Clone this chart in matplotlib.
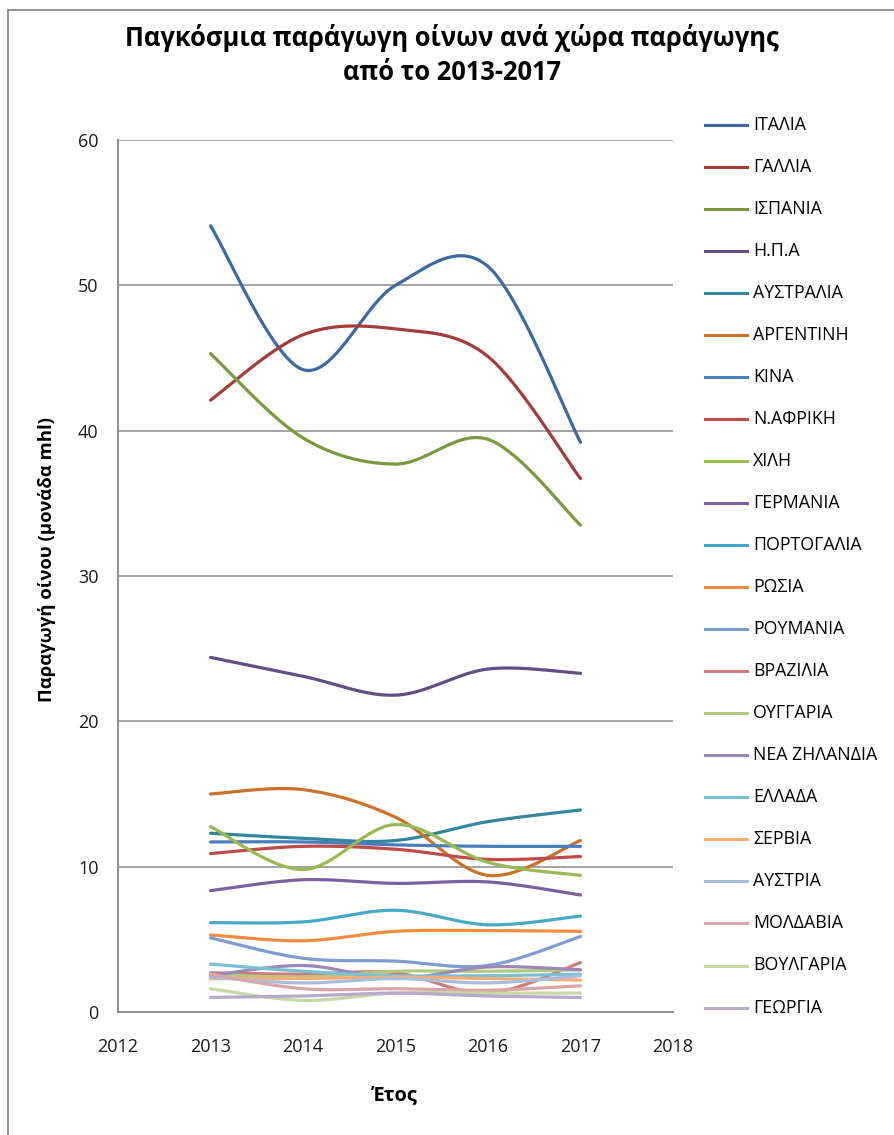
import numpy as np
import matplotlib
matplotlib.use("Agg")
import matplotlib.pyplot as plt
from matplotlib.lines import Line2D

plt.rcParams['font.family'] = ['Open Sans', 'DejaVu Sans']

years = [2013, 2014, 2015, 2016, 2017]

countries = ["ΙΤΑΛΙΑ", "ΓΑΛΛΙΑ", "ΙΣΠΑΝΙΑ", "Η.Π.Α", "ΑΥΣΤΡΑΛΙΑ", "ΑΡΓΕΝΤΙΝΗ",
             "ΚΙΝΑ", "Ν.ΑΦΡΙΚΗ", "ΧΙΛΗ", "ΓΕΡΜΑΝΙΑ", "ΠΟΡΤΟΓΑΛΙΑ", "ΡΩΣΙΑ",
             "ΡΟΥΜΑΝΙΑ", "ΒΡΑΖΙΛΙΑ", "ΟΥΓΓΑΡΙΑ", "ΝΕΑ ΖΗΛΑΝΔΙΑ", "ΕΛΛΑΔΑ", "ΣΕΡΒΙΑ",
             "ΑΥΣΤΡΙΑ", "ΜΟΛΔΑΒΙΑ", "ΒΟΥΛΓΑΡΙΑ", "ΓΕΩΡΓΙΑ"]

italia = [54.1, 44.2, 50.0, 51.3, 39.2]
gallia = [42.1, 46.6, 47.0, 45.1, 36.7]
ispania = [45.3, 39.5, 37.7, 39.4, 33.5]
ipa = [24.4, 23.1, 21.8, 23.6, 23.3]
australia = [12.3, 11.95, 11.8, 13.1, 13.9]
argentini = [15.0, 15.3, 13.4, 9.4, 11.8]
kina = [11.7, 11.7, 11.5, 11.4, 11.4]
n_afriki = [10.9, 11.4, 11.2, 10.5, 10.7]
xili = [12.75, 9.8, 12.9, 10.3, 9.4]
germania = [8.35, 9.1, 8.85, 8.95, 8.05]
portogalia = [6.15, 6.2, 7.0, 6.0, 6.6]
rosia = [5.3, 4.9, 5.55, 5.6, 5.55]
roumania = [5.1, 3.7, 3.5, 3.2, 5.2]
brazilia = [2.7, 2.6, 2.7, 1.3, 3.4]
ouggaria = [2.6, 2.4, 2.8, 2.8, 2.9]
nea_zilandia = [2.5, 3.2, 2.3, 3.1, 2.9]
ellada = [3.3, 2.8, 2.5, 2.5, 2.6]
servia = [2.3, 2.3, 2.4, 2.3, 2.2]
austria = [2.4, 2.0, 2.3, 2.0, 2.5]
moldavia = [2.6, 1.6, 1.6, 1.5, 1.8]
voulgaria = [1.6, 0.8, 1.3, 1.3, 1.3]
georgia = [1.0, 1.1, 1.3, 1.1, 1.0]

series = [italia, gallia, ispania, ipa, australia, argentini, kina, n_afriki,
          xili, germania, portogalia, rosia, roumania, brazilia, ouggaria,
          nea_zilandia, ellada, servia, austria, moldavia, voulgaria, georgia]

colors = ["#3B6AA0", "#A33C39", "#7A9A3F", "#644C84", "#33869B", "#CB7129",
          "#4A7EBB", "#BE4B48", "#98B954", "#7D5FA0", "#46AAC5", "#F38B3F",
          "#7E9CCF", "#CF7B79", "#AFCB7F", "#9C87B8", "#78C0D4", "#F9AC73",
          "#A9BEDD", "#D9A6A5", "#C5D8A5", "#B7AACB"]


def smooth(xs, ys, n=40):
    """Cubic Bezier smoothing through every point (Catmull-Rom style)."""
    x = np.asarray(xs, float)
    y = np.asarray(ys, float)
    px = np.concatenate([[x[0]], x, [x[-1]]])
    py = np.concatenate([[y[0]], y, [y[-1]]])
    t = np.linspace(0, 1, n)
    ox, oy = [], []
    for i in range(1, len(x)):
        p0 = np.array([px[i], py[i]])
        p3 = np.array([px[i + 1], py[i + 1]])
        c1 = p0 + (p3 - np.array([px[i - 1], py[i - 1]])) / 6.0
        c2 = p3 - (np.array([px[i + 2], py[i + 2]]) - p0) / 6.0
        b = ((1 - t) ** 3)[:, None] * p0 + (3 * (1 - t) ** 2 * t)[:, None] * c1 \
            + (3 * (1 - t) * t ** 2)[:, None] * c2 + (t ** 3)[:, None] * p3
        ox.append(b[:, 0])
        oy.append(b[:, 1])
    return np.concatenate(ox), np.concatenate(oy)


W, H = 894, 1135
fig = plt.figure(figsize=(W / 100, H / 100), dpi=100)

# outer chart frame
frame_col = "#8A8A8A"
fig.add_artist(Line2D([8 / W, 8 / W], [0, 1 - 10 / H], transform=fig.transFigure,
                      color=frame_col, lw=1.3))
fig.add_artist(Line2D([8 / W, 1], [1 - 10 / H, 1 - 10 / H], transform=fig.transFigure,
                      color=frame_col, lw=1.3))

left, right, top, bottom = 118, 673, 140, 1012
ax = fig.add_axes([left / W, 1 - bottom / H, (right - left) / W, (bottom - top) / H])

for ys, c in zip(series, colors):
    sx, sy = smooth(years, ys)
    ax.plot(sx, sy, color=c, lw=2.3, solid_capstyle='round')

ax.set_xlim(2012, 2018)
ax.set_ylim(0, 60)
ax.set_xticks(range(2012, 2019))
ax.set_yticks(range(0, 61, 10))
ax.grid(axis='y', color="#8C8C8C", lw=1.1)
ax.set_axisbelow(True)
for s in ['top', 'right']:
    ax.spines[s].set_visible(False)
for s in ['left', 'bottom']:
    ax.spines[s].set_color("#8C8C8C")
    ax.spines[s].set_linewidth(1.4)
ax.tick_params(axis='both', length=0, labelsize=13, colors="#1a1a1a")
ax.tick_params(axis='x', pad=19)
ax.tick_params(axis='y', pad=14)

aw, ah = right - left, bottom - top
ax.set_xlabel("Έτος", fontsize=14.5, fontweight='bold', va='center', ha='center')
ax.xaxis.set_label_coords((395 - left) / aw, -(1095 - bottom) / ah)
ax.set_ylabel("Παραγωγή οίνου (μονάδα mhl)", fontsize=13.3, fontweight='bold',
              va='center', ha='center')
ax.yaxis.set_label_coords(-(left - 47) / aw, (bottom - 560) / ah)

fig.text(452 / W, 1 - 38 / H, "Παγκόσμια παράγωγη οίνων ανά χώρα παράγωγης",
         ha='center', va='center', fontsize=18.4, fontweight='bold')
fig.text(452 / W, 1 - 73 / H, "από το 2013-2017",
         ha='center', va='center', fontsize=18.4, fontweight='bold')

# legend entries
for i, (name, c) in enumerate(zip(countries, colors)):
    yy = 1 - (124.5 + i * 42.05) / H
    fig.add_artist(Line2D([705 / W, 747 / W], [yy, yy], transform=fig.transFigure,
                          color=c, lw=2.2))
    fig.text(753 / W, yy, name, ha='left', va='center', fontsize=12.8)

fig.savefig("out.png", dpi=100)
